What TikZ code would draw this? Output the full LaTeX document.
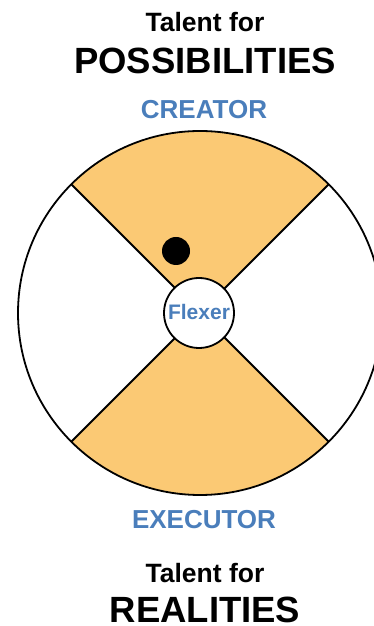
\documentclass[tikz,border=0pt]{standalone}
\usepackage{fontspec}
\setmainfont{Liberation Sans}
\definecolor{sectorfill}{RGB}{251,201,116}
\definecolor{roleblue}{RGB}{74,126,187}
\tikzset{
  talent/.style={anchor=base,font=\fontsize{26.5}{30}\selectfont\bfseries,text=black,inner sep=0pt},
  bigword/.style={anchor=base,font=\fontsize{36.5}{40}\selectfont\bfseries,text=black,inner sep=0pt},
  role/.style={anchor=base,font=\fontsize{26}{30}\selectfont\bfseries,text=roleblue,inner sep=0pt},
  outline/.style={line width=1.8pt,draw=black},
}
\begin{document}
\begin{tikzpicture}[x=1pt,y=1pt]
\useasboundingbox (0,0) rectangle (374,626);
\clip (0,0) rectangle (374,626);
\coordinate (c) at (200,313);
% sectors
\fill[sectorfill] (c) -- ++(45:182pt) arc[start angle=45,end angle=135,radius=182pt] -- cycle;
\fill[sectorfill] (c) -- ++(225:182pt) arc[start angle=225,end angle=315,radius=182pt] -- cycle;
% cross lines
\draw[outline] (c) ++(45:182pt) -- ++(225:364pt);
\draw[outline] (c) ++(135:182pt) -- ++(315:364pt);
% outer circle
\draw[outline] (c) circle[radius=182pt];
% centre circle
\node[circle,outline,fill=white,minimum size=70pt,inner sep=0pt] (flex) at (199,313) {};
\node[anchor=base,font=\fontsize{21}{24}\selectfont\bfseries,text=roleblue,inner sep=0pt] (flexlabel) at (199,306) {Flexer};
% dot
\node[circle,fill=black,minimum size=28pt,inner sep=0pt] (dot) at (176,375) {};
% texts
\node[talent] (t1) at (205,594) {Talent for};
\node[bigword] (poss) at (205,552) {POSSIBILITIES};
\node[role] (creator) at (204,507) {CREATOR};
\node[role] (executor) at (204,97) {EXECUTOR};
\node[talent] (t2) at (205,43) {Talent for};
\node[bigword] (real) at (205,4) {REALITIES};
\end{tikzpicture}
\end{document}
